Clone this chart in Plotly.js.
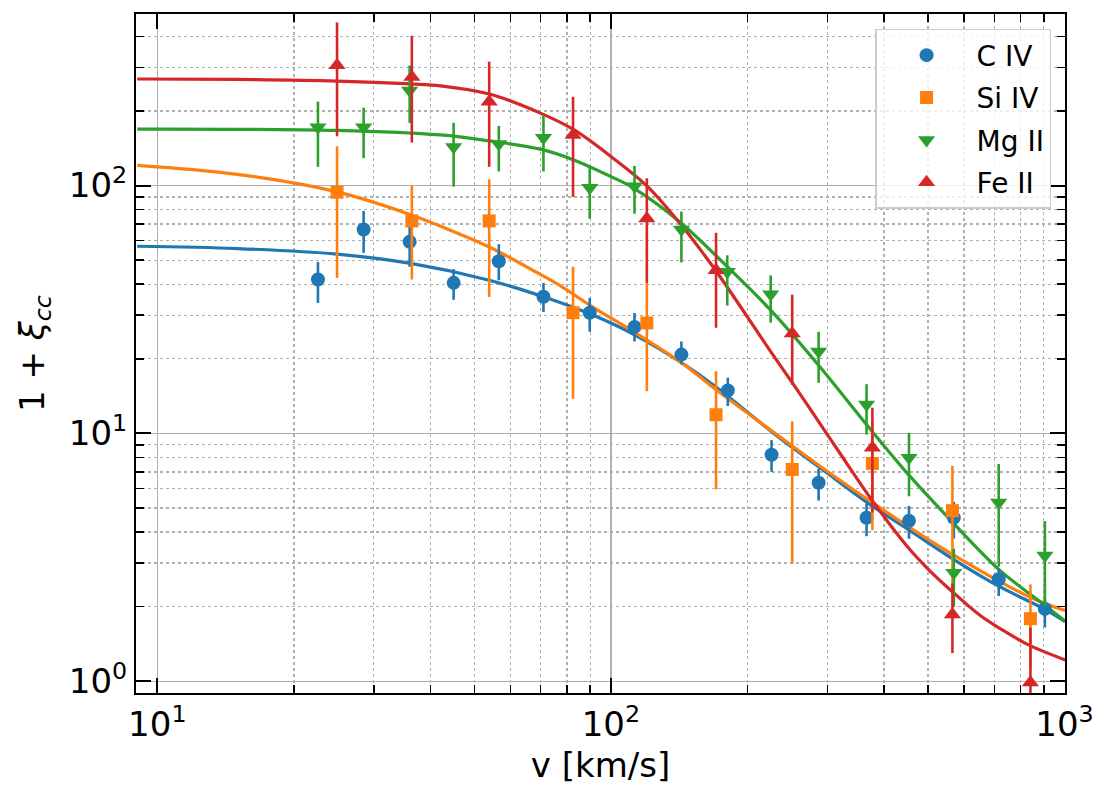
<!DOCTYPE html>
<html>
<head>
<meta charset="utf-8">
<script src="https://cdn.plot.ly/plotly-3.0.1.min.js"></script>
<style>html,body{margin:0;padding:0;background:#fff;}#chart{width:1113px;height:800px;}</style>
</head>
<body>
<div id="chart"></div>
<script>
// ---- Data ----
const civV  = [22.6, 28.5, 36.0, 45.0, 56.6, 71.0, 89.8, 112.7, 143, 181, 226, 287, 366, 454, 570, 716, 905];
const civY  = [41.8, 66.5, 59.3, 40.5, 49.5, 35.6, 30.7, 26.9, 20.8, 14.9, 8.2, 6.33, 4.57, 4.44, 4.57, 2.58, 1.96];
const civHi = [49.2, 79, 70, 46, 58, 40.5, 35.2, 30.6, 23.5, 16.8, 9.4, 7.2, 5.2, 5.1, 5.3, 2.85, 2.14];
const civLo = [33.6, 53.5, 47, 34.6, 41.5, 30.9, 25.7, 23.5, 19, 12.9, 7.0, 5.36, 3.85, 3.76, 3.77, 2.21, 1.65];

const sivV  = [24.9, 36.4, 53.9, 82.5, 120, 170.5, 251, 377, 566, 841];
const sivY  = [94, 72, 72, 30.7, 27.9, 11.9, 7.16, 7.57, 4.88, 1.79];
const sivHi = [144, 100, 106, 47, 40.5, 17.8, 11.2, 11.1, 7.4, 2.46];
const sivLo = [42.4, 41.8, 35.5, 13.8, 14.8, 5.95, 2.99, 4.07, 2.4, 1.12];

const mgV  = [22.6, 28.5, 36.0, 45.0, 56.6, 71.0, 89.8, 112.7, 143, 180.5, 225, 287, 366, 454, 570, 716, 905];
const mgY  = [172, 172, 242, 143, 147, 156, 98, 99.4, 66.5, 44.9, 36.4, 21.4, 13.1, 7.98, 2.74, 5.26, 3.22];
const mgHi = [218, 206, 305, 179, 174, 193, 119, 120, 78.5, 52.3, 43.4, 25.7, 15.8, 10.06, 3.43, 7.53, 4.43];
const mgLo = [119, 129, 179, 99, 114, 114, 73.5, 77, 49, 32.8, 28, 16, 9.9, 5.58, 2.0, 2.9, 2.01];

const feV  = [24.9, 36.4, 53.9, 82.5, 120, 170.5, 251, 377, 566, 841];
const feY  = [306, 274, 218, 160, 73.6, 45.5, 25.3, 8.76, 1.86, 0.99];
const feHi = [455, 402, 316, 228, 107, 64.5, 36.3, 12.7, 2.48, 1.65];
const feLo = [158, 149, 119, 90, 40.5, 26.7, 15.7, 4.8, 1.30, 0.5];

// fit curves
const civFitV = [9.03, 15, 24.9, 36.2, 53.9, 71, 90.1, 112.7, 143, 170.5, 228.6, 289.7, 377, 452, 570, 716, 905, 1003];
const civFitY = [56.9, 55.7, 52.9, 48.5, 41.5, 35.6, 30.3, 25.0, 19.3, 15.4, 10.0, 7.25, 5.09, 4.10, 3.10, 2.42, 1.95, 1.74];
const sivFitV = [9.03, 15, 24.9, 36.2, 42.1, 53.9, 68.8, 77.4, 90.1, 112.7, 143, 170.5, 228.6, 289.7, 377, 566, 842, 1003];
const sivFitY = [120.7, 111, 94.3, 76.3, 68.5, 56.5, 44.5, 39.4, 32.8, 25.6, 19.3, 15.0, 10.1, 7.36, 5.26, 3.25, 2.18, 1.93];
const mgFitV = [9.03, 24.9, 42.1, 53.9, 69.9, 82.8, 100, 112.2, 142.3, 181.9, 224.7, 287.2, 367, 452, 570, 716, 903, 1003];
const mgFitY = [169, 167, 160, 151.4, 140.2, 126.9, 108.7, 97.6, 71, 46.4, 31.5, 18.8, 10.8, 6.85, 4.33, 2.83, 2.03, 1.75];
const feFitV = [9.03, 15, 24.9, 36.2, 42.1, 53.9, 69.9, 82.8, 100, 120, 142.3, 157.6, 170.8, 199.7, 224.6, 253, 300, 320, 377, 450, 506, 566, 653, 747, 842, 1003];
const feFitY = [269, 268, 264, 257, 252.5, 234, 196, 168, 131, 99.7, 70, 55, 45, 29.6, 21.5, 15.7, 9.9, 8.3, 5.35, 3.5, 2.78, 2.3, 1.84, 1.57, 1.39, 1.22];

const labels = ['C IV', 'Si IV', 'Mg II', 'Fe II'];
const colors = ['#1f77b4', '#ff7f0e', '#2ca02c', '#d62728'];

const xTickVals = [10, 100, 1000];
const xTickText = ['10<sup>1</sup>', '10<sup>2</sup>', '10<sup>3</sup>'];
const yTickVals = [1, 10, 100];
const yTickText = ['10<sup>0</sup>', '10<sup>1</sup>', '10<sup>2</sup>'];

// ---- Build traces ----
function diff(a, b) { return a.map((v, i) => v - b[i]); }

function fitTrace(v, y, c) {
  return {x: v, y: y, mode: 'lines', type: 'scatter', showlegend: false, hoverinfo: 'skip',
          line: {color: c, width: 3.2, shape: 'spline', smoothing: 1}};
}
function pointTrace(v, y, hi, lo, name, c, sym, size) {
  return {x: v, y: y, mode: 'markers', type: 'scatter', name: name, legendgroup: name,
          marker: {color: c, symbol: sym, size: size, line: {width: 0}},
          error_y: {type: 'data', symmetric: false, array: diff(hi, y), arrayminus: diff(y, lo),
                    color: c, thickness: 2.6, width: 0}};
}

const data = [
  fitTrace(civFitV, civFitY, colors[0]),
  fitTrace(sivFitV, sivFitY, colors[1]),
  fitTrace(mgFitV, mgFitY, colors[2]),
  fitTrace(feFitV, feFitY, colors[3]),
  pointTrace(civV, civY, civHi, civLo, labels[0], colors[0], 'circle', 14),
  pointTrace(sivV, sivY, sivHi, sivLo, labels[1], colors[1], 'square', 13),
  pointTrace(mgV, mgY, mgHi, mgLo, labels[2], colors[2], 'triangle-down', 15),
  pointTrace(feV, feY, feHi, feLo, labels[3], colors[3], 'triangle-up', 15)
];

const font = {family: 'DejaVu Sans, sans-serif', color: '#000'};
function axisBase() {
  return {
    type: 'log', showline: true, linecolor: '#000', linewidth: 2, mirror: 'allticks',
    ticks: 'inside', ticklen: 15, tickwidth: 2, tickcolor: '#000',
    showgrid: true, gridcolor: '#b0b0b0', gridwidth: 1.5, zeroline: false,
    tickfont: Object.assign({size: 34}, font), tickmode: 'array',
    minor: {dtick: 'D1', ticks: 'inside', ticklen: 8, tickwidth: 1.5, tickcolor: '#000',
            showgrid: true, gridcolor: '#b0b0b0', griddash: 'dot', gridwidth: 1.3}
  };
}

const xaxis = Object.assign(axisBase(), {
  range: [0.953, 3.001], tickvals: xTickVals, ticktext: xTickText,
  title: {text: 'v [km/s]', font: Object.assign({size: 34}, font), standoff: 10}
});
const yaxis = Object.assign(axisBase(), {
  range: [-0.047, 2.692], tickvals: yTickVals, ticktext: yTickText,
  title: {text: '1 + <i>ξ</i><sub><i>cc</i></sub>', font: Object.assign({size: 34}, font), standoff: 14}
});

const layout = {
  width: 1113, height: 800,
  margin: {l: 136, r: 48, t: 14, b: 107, pad: 0},
  paper_bgcolor: '#fff', plot_bgcolor: '#fff',
  font: font,
  xaxis: xaxis, yaxis: yaxis,
  showlegend: true,
  legend: {x: 0.985, y: 0.978, xanchor: 'right', yanchor: 'top',
           bgcolor: 'rgba(255,255,255,0.8)', bordercolor: '#cccccc', borderwidth: 1.5,
           font: Object.assign({size: 28}, font), itemwidth: 90,
           traceorder: 'grouped', tracegroupgap: 3}
};

Plotly.newPlot('chart', data, layout, {displayModeBar: false, staticPlot: true});
</script>
</body>
</html>
